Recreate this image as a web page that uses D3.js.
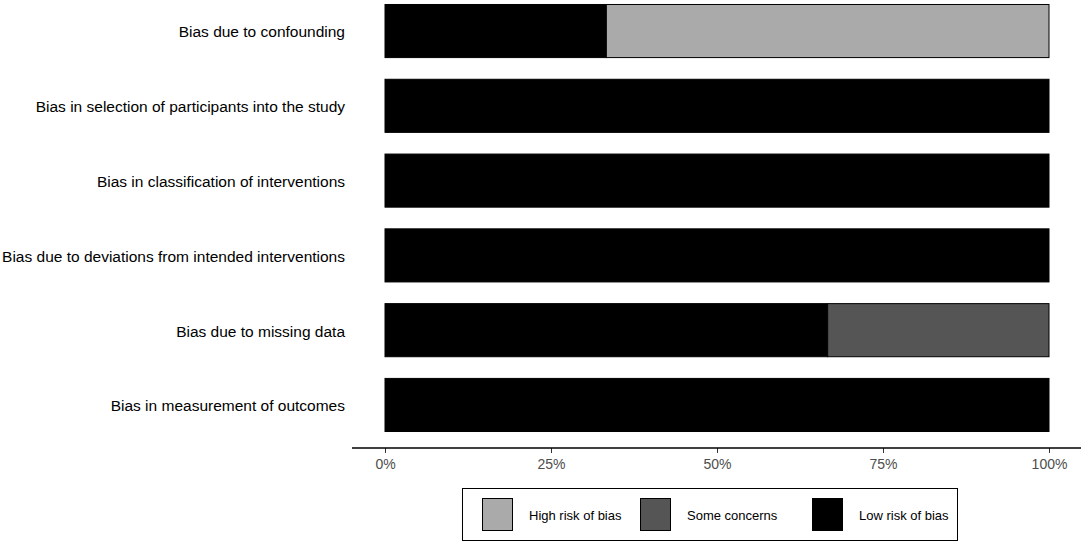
<!DOCTYPE html>
<html>
<head>
<meta charset="utf-8">
<script src="https://cdn.jsdelivr.net/npm/d3@7"></script>
<style>
  body { margin: 0; background: #fff; }
  text { font-family: "Liberation Sans", Arial, sans-serif; }
</style>
</head>
<body>
<div id="chart"></div>
<script>
const domains = [
  "Bias due to confounding",
  "Bias in selection of participants into the study",
  "Bias in classification of interventions",
  "Bias due to deviations from intended interventions",
  "Bias due to missing data",
  "Bias in measurement of outcomes"
];
// share of studies per judgement (3 studies)
const lowRisk = [1 / 3, 1, 1, 1, 2 / 3, 1];
const someConcerns = [0, 0, 0, 0, 1 / 3, 0];
const highRisk = [2 / 3, 0, 0, 0, 0, 0];

const levels = ["Low risk of bias", "Some concerns", "High risk of bias"];
const legendOrder = ["High risk of bias", "Some concerns", "Low risk of bias"];
const colors = { "Low risk of bias": "#000000", "Some concerns": "#555555", "High risk of bias": "#aaaaaa" };
const xTicks = [0, 0.25, 0.5, 0.75, 1];

const W = 1084, H = 543;
const rows = domains.map((d, i) => ({
  domain: d,
  "Low risk of bias": lowRisk[i],
  "Some concerns": someConcerns[i],
  "High risk of bias": highRisk[i]
}));

const svg = d3.select("#chart").append("svg").attr("width", W).attr("height", H);

const x = d3.scaleLinear().domain([0, 1]).range([385, 1049]);
const y = d3.scaleBand().domain(domains).range([0, 436]).paddingInner(0.29).paddingOuter(0.06);

const stack = d3.stack().keys(levels)(rows);

svg.append("g").selectAll("g").data(stack).join("g")
  .attr("fill", s => colors[s.key])
  .selectAll("rect").data(s => s.map(v => ({ v, key: s.key }))).join("rect")
  .filter(d => d.v[1] - d.v[0] > 0)
  .attr("x", d => x(d.v[0]))
  .attr("width", d => x(d.v[1]) - x(d.v[0]))
  .attr("y", d => y(d.v.data.domain))
  .attr("height", y.bandwidth())
  .attr("stroke", "#000")
  .attr("stroke-width", 1);

// y labels
svg.append("g").selectAll("text").data(domains).join("text")
  .attr("x", 345)
  .attr("y", d => y(d) + y.bandwidth() / 2 + 1)
  .attr("dy", "0.35em")
  .attr("text-anchor", "end")
  .attr("font-size", 15.5)
  .attr("fill", "#000")
  .text(d => d);

// x axis
const axisY = 448;
const gx = svg.append("g").attr("transform", `translate(0,${axisY})`)
  .call(d3.axisBottom(x).tickValues(xTicks).tickFormat(d3.format(".0%")).tickSize(5).tickPadding(6));
gx.select(".domain").remove();
gx.append("line").attr("x1", 352).attr("x2", 1081).attr("stroke", "#000").attr("stroke-width", 1.5);
gx.selectAll(".tick line").attr("stroke", "#333");
gx.selectAll(".tick text").attr("font-size", 14).attr("fill", "#4d4d4d")
  .attr("font-family", "Liberation Sans, Arial, sans-serif");

// legend
const lg = svg.append("g");
lg.append("rect").attr("x", 462.5).attr("y", 488.5).attr("width", 495).attr("height", 52)
  .attr("fill", "#fff").attr("stroke", "#000").attr("stroke-width", 1);
const keyX = [482, 640, 812];
legendOrder.forEach((k, i) => {
  lg.append("rect").attr("x", keyX[i] + 0.5).attr("y", 498.5).attr("width", 30).attr("height", 32)
    .attr("fill", colors[k]).attr("stroke", "#000").attr("stroke-width", 1);
  lg.append("text").attr("x", keyX[i] + 47).attr("y", 515).attr("dy", "0.35em")
    .attr("font-size", 13).attr("fill", "#000").text(k);
});
</script>
</body>
</html>
